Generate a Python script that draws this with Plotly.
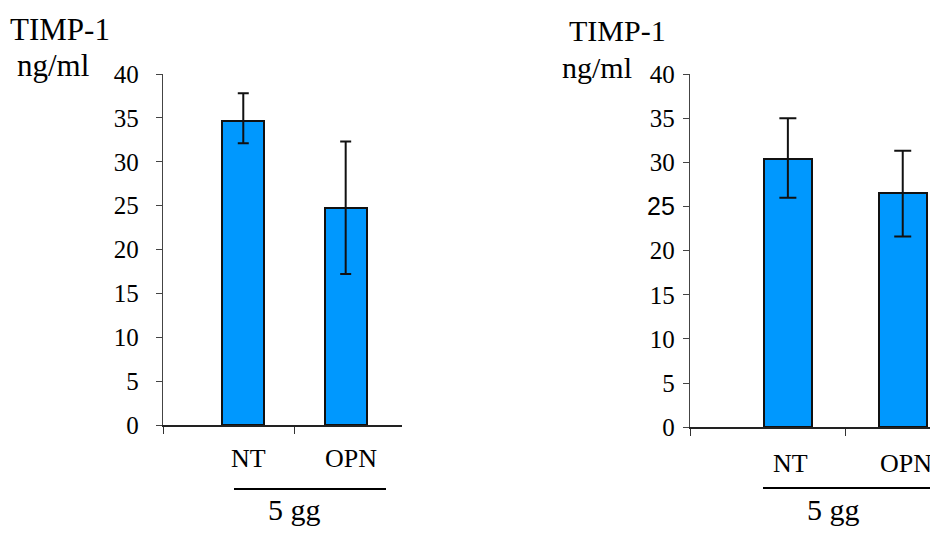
import plotly.graph_objects as go

# ---- data ----
categories = ["NT", "OPN"]
left_values = [34.6, 24.7]
left_err_plus = [3.2, 7.6]
left_err_minus = [2.5, 7.5]
right_values = [30.4, 26.5]
right_err_plus = [4.6, 4.8]
right_err_minus = [4.4, 4.9]
y_tickvals = [0, 5, 10, 15, 20, 25, 30, 35, 40]
left_ytext = [str(v) for v in y_tickvals]
right_ytext = [("<span style='font-family:Liberation Sans'>%d</span>" % v) if v == 25 else str(v)
               for v in y_tickvals]
y_title_lines = ["TIMP-1", "ng/ml"]
group_label = "5 gg"

SERIF = "Liberation Serif"
BAR_COLOR = "#0098fe"
# page body has an 8px margin on every side: figure drawn at offset (8, 8)
OX, OY = 8, 8
W, H = 938 - OX, 535 - 2 * OY


def px(x):
    return (x - OX) / W


def py(y):
    return 1 - (y - OY) / H


fig = go.Figure()

fig.add_trace(go.Bar(
    x=categories, y=left_values, xaxis="x", yaxis="y", width=0.41,
    marker=dict(color=BAR_COLOR, line=dict(color="#111111", width=2)),
    error_y=dict(type="data", symmetric=False, array=left_err_plus, arrayminus=left_err_minus,
                 color="#111111", thickness=2, width=5.5),
    showlegend=False, hoverinfo="skip"))

fig.add_trace(go.Bar(
    x=categories, y=right_values, xaxis="x2", yaxis="y2", width=0.42,
    marker=dict(color=BAR_COLOR, line=dict(color="#111111", width=2)),
    error_y=dict(type="data", symmetric=False, array=right_err_plus, arrayminus=right_err_minus,
                 color="#111111", thickness=2, width=8.5),
    showlegend=False, hoverinfo="skip"))

left_xrange = [-0.784, 1.55]
right_xrange = [-0.852, 1.307]

xcommon = dict(type="category", showgrid=False, zeroline=False, showline=True,
               linecolor="#222222", linewidth=1.5, ticks="outside", ticklen=7,
               tickcolor="#333333", tickwidth=1.2, fixedrange=True, automargin=False)
ycommon = dict(range=[0, 40], showgrid=False, zeroline=False, showline=True,
               linecolor="#444444", linewidth=1.3, ticks="outside", ticklen=6,
               tickcolor="#444444", tickwidth=1.2, tickmode="array", tickvals=y_tickvals,
               tickfont=dict(family=SERIF, size=25, color="black"), fixedrange=True,
               automargin=False)

fig.update_layout(
    width=W, height=H, margin=dict(l=0, r=0, t=0, b=0, pad=0), autosize=False,
    paper_bgcolor="white", plot_bgcolor="white",
    font=dict(family=SERIF, color="black"),
    bargap=0,
    xaxis=dict(domain=[px(163), px(402)], range=left_xrange, anchor="y",
               tickmode="array", tickvals=[left_xrange[0], 0.5], ticktext=["", ""], **xcommon),
    yaxis=dict(domain=[py(425), py(74)], anchor="x", ticktext=left_ytext,
               ticklabelstandoff=12, **ycommon),
    xaxis2=dict(domain=[px(690), 1.0], range=right_xrange, anchor="y2",
                tickmode="array", tickvals=[right_xrange[0], 0.5], ticktext=["", ""], **xcommon),
    yaxis2=dict(domain=[py(427.3), py(74)], anchor="x2", ticktext=right_ytext,
                ticklabelstandoff=3, **ycommon),
)

ann = []
# category labels under bars
for cat in categories:
    ann.append(dict(x=cat, y=0, xref="x", yref="y", text=cat, showarrow=False,
                    xanchor="center", yanchor="middle", xshift=5, yshift=-33,
                    font=dict(family=SERIF, size=26, color="black")))
    ann.append(dict(x=cat, y=0, xref="x2", yref="y2", text=cat, showarrow=False,
                    xanchor="center", yanchor="middle", xshift=3, yshift=-36,
                    font=dict(family=SERIF, size=26, color="black")))

# group labels (kept inside the figure's bottom edge)
for cx in (294, 833):
    ann.append(dict(x=px(cx), y=0, xref="paper", yref="paper", text=group_label,
                    showarrow=False, xanchor="center", yanchor="bottom", borderpad=0,
                    font=dict(family=SERIF, size=30, color="black")))

# y titles
ann.append(dict(x=px(8), y=py(30), xref="paper", yref="paper", text=y_title_lines[0],
                showarrow=False, xanchor="left", yanchor="middle",
                font=dict(family=SERIF, size=31, color="black")))
ann.append(dict(x=px(15), y=py(65), xref="paper", yref="paper", text=y_title_lines[1],
                showarrow=False, xanchor="left", yanchor="middle",
                font=dict(family=SERIF, size=31, color="black")))
ann.append(dict(x=px(567), y=py(31), xref="paper", yref="paper", text=y_title_lines[0],
                showarrow=False, xanchor="left", yanchor="middle",
                font=dict(family=SERIF, size=30, color="black")))
ann.append(dict(x=px(560), y=py(67), xref="paper", yref="paper", text=y_title_lines[1],
                showarrow=False, xanchor="left", yanchor="middle",
                font=dict(family=SERIF, size=30, color="black")))

fig.update_layout(annotations=ann)

# group underline
fig.add_shape(type="line", xref="paper", yref="paper", x0=px(234), x1=px(386),
              y0=py(489), y1=py(489), line=dict(color="black", width=2))
fig.add_shape(type="line", xref="paper", yref="paper", x0=px(763), x1=px(937),
              y0=py(488), y1=py(488), line=dict(color="black", width=2))

fig.write_html("out.html")
